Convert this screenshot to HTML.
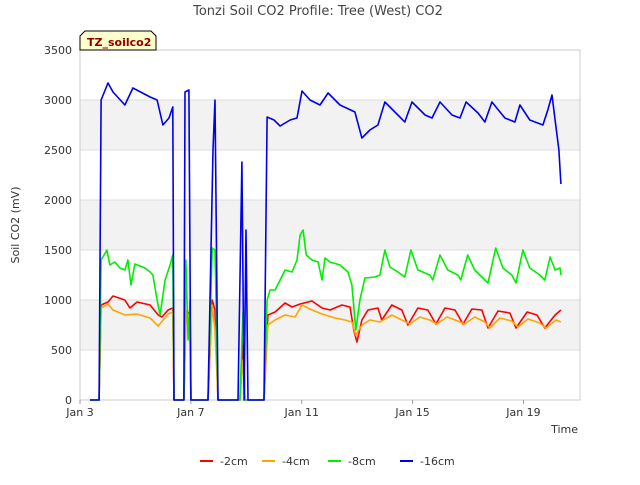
<!DOCTYPE html>
<html><head><meta charset="utf-8"><style>
body{margin:0;background:#fff;font-family:"Liberation Sans","DejaVu Sans",sans-serif;}
svg text{font-family:"DejaVu Sans","Liberation Sans",sans-serif;}
</style></head><body>
<svg id="chart" width="640" height="480">
<text x="318" y="15" text-anchor="middle" font-size="13" fill="#444">Tonzi Soil CO2 Profile: Tree (West) CO2</text>
<g id="plot"></g>
<text transform="translate(19,225) rotate(-90)" text-anchor="middle" font-size="11" fill="#333">Soil CO2 (mV)</text>
<text x="578" y="433" text-anchor="end" font-size="11" fill="#333">Time</text>
<g>
<path d="M80,50 L80,36 L85,31 L151,31 L156,36 L156,50 Z" fill="#ffffcc" stroke="#000" stroke-width="1"/>
<text x="87" y="46" font-size="11" font-weight="bold" fill="#8b0000">TZ_soilco2</text>
</g>
<g id="legend"></g>
</svg>
<script>
const yTicks=[0,500,1000,1500,2000,2500,3000,3500];
const xTickDays=[3,7,11,15,19];
const xTickLabels=["Jan 3","Jan 7","Jan 11","Jan 15","Jan 19"];
const seriesNames=["-2cm","-4cm","-8cm","-16cm"];
const seriesColors=["#ff0000","#ffa500","#00ee00","#0000ee"];
const redDays=[3.36,3.69,3.76,4.01,4.19,4.62,4.8,5.06,5.53,5.82,5.96,6.18,6.35,6.39,6.75,6.82,6.97,7.0,7.62,7.77,7.87,7.98,8.77,8.88,8.95,9.64,9.78,10.04,10.4,10.65,10.94,11.37,11.73,12.02,12.45,12.74,12.88,12.99,13.17,13.39,13.75,13.89,14.25,14.61,14.83,15.19,15.55,15.84,16.17,16.53,16.82,17.14,17.5,17.72,18.08,18.51,18.73,19.13,19.49,19.77,20.14,20.35];
const redVals=[0,0,950,980,1040,1000,920,980,950,850,830,900,920,0,0,900,850,0,0,1000,900,0,0,600,0,0,850,880,970,930,960,990,920,900,950,930,700,580,800,900,920,800,950,900,750,920,900,760,920,900,760,910,900,720,890,870,720,880,850,720,850,900];
const orangeDays=[3.36,3.69,3.76,4.01,4.19,4.62,5.06,5.53,5.82,6.18,6.35,6.39,6.75,6.82,6.97,7.0,7.62,7.77,7.87,7.98,8.77,8.88,8.95,9.64,9.78,10.04,10.4,10.76,11.01,11.37,11.73,12.2,12.56,12.81,12.95,13.17,13.46,13.82,14.25,14.61,14.9,15.26,15.62,15.87,16.24,16.63,16.88,17.24,17.61,17.79,18.15,18.58,18.8,19.16,19.59,19.81,20.18,20.35];
const orangeVals=[0,0,920,960,900,850,860,820,740,860,880,0,0,900,600,0,0,950,700,0,0,400,0,0,750,800,850,830,950,900,860,820,800,780,650,750,800,780,850,800,760,830,800,760,830,790,760,830,780,720,820,790,730,810,770,720,800,780];
const greenDays=[3.36,3.69,3.76,3.87,3.97,4.08,4.26,4.44,4.62,4.73,4.84,4.98,5.34,5.53,5.63,5.78,5.89,6.07,6.25,6.35,6.39,6.75,6.82,6.9,6.97,7.0,7.62,7.77,7.87,7.98,8.77,8.88,8.95,9.64,9.75,9.86,10.04,10.22,10.4,10.65,10.83,10.94,11.05,11.16,11.37,11.59,11.73,11.84,12.02,12.38,12.67,12.81,12.95,13.1,13.28,13.64,13.82,14.0,14.18,14.47,14.72,14.94,15.19,15.62,15.73,15.99,16.27,16.63,16.74,16.99,17.24,17.61,17.72,18.0,18.26,18.58,18.73,18.98,19.23,19.59,19.77,19.96,20.14,20.32,20.35];
const greenVals=[0,0,1400,1450,1500,1350,1380,1320,1300,1400,1150,1360,1320,1280,1250,1000,850,1200,1350,1450,0,0,1400,600,1000,0,0,1520,1500,0,0,880,0,0,1000,1100,1100,1200,1300,1280,1400,1650,1700,1450,1400,1380,1200,1420,1380,1350,1280,1150,700,1000,1220,1230,1250,1500,1330,1280,1230,1500,1300,1250,1200,1450,1300,1250,1200,1450,1300,1200,1170,1520,1320,1250,1170,1500,1320,1250,1200,1430,1300,1320,1250];
const blueDays=[3.36,3.69,3.76,4.01,4.19,4.62,4.91,5.53,5.78,5.99,6.21,6.35,6.39,6.75,6.79,6.93,7.0,7.62,7.8,7.87,7.98,8.7,8.84,8.92,8.99,9.06,9.64,9.75,10.0,10.22,10.58,10.83,11.01,11.3,11.66,11.95,12.38,12.92,13.17,13.46,13.75,14.0,14.47,14.72,14.98,15.45,15.7,15.99,16.42,16.71,16.93,17.36,17.61,17.86,18.33,18.69,18.87,19.23,19.7,19.88,20.03,20.14,20.28,20.35];
const blueVals=[0,0,3000,3170,3080,2950,3120,3030,3000,2750,2820,2930,0,0,3080,3100,0,0,2500,3000,0,0,2380,0,1700,0,0,2830,2800,2740,2800,2820,3090,3000,2950,3070,2950,2880,2620,2700,2750,2980,2850,2780,2980,2850,2820,2980,2850,2820,2980,2870,2780,2980,2820,2780,2950,2800,2750,2900,3050,2800,2500,2160];

const L=80,R=580,T=50,B=400,D0=3,D1=21.04;
const xS=d=>L+(d-D0)/(D1-D0)*(R-L);
const yS=v=>B-v/3500*(B-T);
const NS="http://www.w3.org/2000/svg";
const plot=document.getElementById('plot');
function mk(tag,attrs,parent){const e=document.createElementNS(NS,tag);for(const k in attrs)e.setAttribute(k,attrs[k]);parent.appendChild(e);return e;}
// bands
for(let i=0;i<yTicks.length-1;i++){
  if(i%2===1){const r=mk('rect',{x:L,y:yS(yTicks[i+1]),width:R-L,height:yS(yTicks[i])-yS(yTicks[i+1]),fill:'#f2f2f2'},plot);
  
  }
}
yTicks.forEach(v=>{
  const l=mk('line',{x1:L,x2:R,y1:yS(v),y2:yS(v),stroke:'#dddddd'},plot);
  
  
  const t=mk('text',{x:L-8,y:yS(v)+4,'text-anchor':'end','font-size':11,fill:'#333'},plot);t.textContent=v;
  
  
});
mk('rect',{x:L,y:T,width:R-L,height:B-T,fill:'none',stroke:'#cccccc'},plot);
xTickDays.forEach((d,i)=>{
  const k=mk('line',{x1:xS(d),x2:xS(d),y1:B,y2:B+4,stroke:'#999'},plot);
  
  
  const t=mk('text',{x:xS(d),y:B+16,'text-anchor':'middle','font-size':11,fill:'#333'},plot);t.textContent=xTickLabels[i];
  
  
});
const all=[[redDays,redVals],[orangeDays,orangeVals],[greenDays,greenVals],[blueDays,blueVals]];
all.forEach((s,i)=>{
  const pts=s[0].map((d,j)=>xS(d).toFixed(1)+','+yS(s[1][j]).toFixed(1)).join(' ');
  const p=mk('polyline',{points:pts,fill:'none',stroke:seriesColors[i],'stroke-width':1.6,'stroke-linejoin':'round'},plot);
  
  
});
const leg=document.getElementById('legend');
const lx=[200,262,328,400];
seriesNames.forEach((n,i)=>{
  const g=mk('g',{},leg);
  
  
  mk('line',{x1:lx[i],x2:lx[i]+13,y1:461,y2:461,stroke:seriesColors[i],'stroke-width':2},g);
  const t=mk('text',{x:lx[i]+20,y:465,'font-size':11,fill:'#333'},g);t.textContent=n;
});
</script>
</body></html>
